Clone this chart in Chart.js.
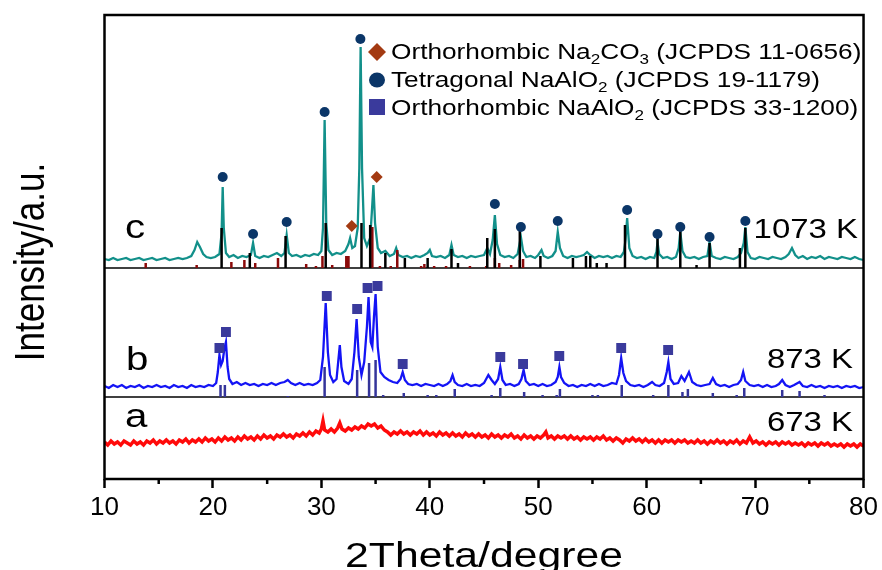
<!DOCTYPE html>
<html>
<head>
<meta charset="utf-8">
<script src="https://cdn.jsdelivr.net/npm/chart.js@4.4.1/dist/chart.umd.min.js"></script>
<style>
  body { margin: 0; background: #fff; }
</style>
</head>
<body>
<canvas id="chart" width="882" height="570"></canvas>
<script>
// scans: [2theta, intensity above the panel line]
const scanC = [[10,9],[10.4,8],[10.8,10],[11.2,8],[11.6,9],[12,10],[12.4,8],[12.8,9],[13.2,10],[13.6,8],[14,9],[14.4,10],[14.8,8],[15.2,9],[15.6,10],[16,8],[16.4,9],[16.8,10],[17.2,9],[17.6,10],[18,12],[18.3,18],[18.55,26],[18.8,21],[19.1,14],[19.4,11],[19.8,10],[20.2,11],[20.6,14],[20.8,35],[20.9,81],[21,40],[21.2,15],[21.5,11],[21.9,13],[22.3,10],[22.7,12],[23.1,11],[23.5,13],[23.7,25],[23.9,12],[24.3,10],[24.7,12],[25.1,11],[25.5,13],[25.9,15],[26.3,12],[26.6,15],[26.8,33],[27,15],[27.3,12],[27.7,13],[28.1,11],[28.5,13],[28.9,12],[29.3,14],[29.7,13],[30,17],[30.15,40],[30.3,148],[30.45,45],[30.65,18],[31,13],[31.4,15],[31.8,14],[32.2,17],[32.5,24],[32.65,30],[32.85,20],[33.1,22],[33.35,40],[33.5,100],[33.62,221],[33.75,100],[33.95,30],[34.2,22],[34.5,30],[34.65,55],[34.8,83],[34.95,45],[35.2,20],[35.5,15],[35.9,17],[36.3,12],[36.7,14],[36.9,20],[37.1,13],[37.5,11],[37.9,12],[38.3,10],[38.7,12],[39.1,11],[39.5,13],[39.8,15],[40,18],[40.2,12],[40.6,11],[41,12],[41.4,10],[41.8,13],[42,23],[42.2,13],[42.6,11],[43,12],[43.4,10],[43.8,12],[44.2,11],[44.6,12],[45,13],[45.3,20],[45.55,14],[45.8,28],[46,53],[46.2,24],[46.5,13],[46.9,11],[47.3,12],[47.7,10],[48.1,14],[48.4,31],[48.6,17],[48.9,11],[49.3,12],[49.7,10],[50,13],[50.3,18],[50.5,12],[50.9,10],[51.3,12],[51.6,17],[51.8,36],[52,20],[52.3,12],[52.7,10],[53.1,12],[53.5,11],[53.9,12],[54.2,13],[54.5,16],[54.8,13],[55.2,10],[55.6,12],[56,11],[56.4,12],[56.8,10],[57.2,12],[57.6,11],[57.9,16],[58.05,28],[58.2,50],[58.4,20],[58.7,12],[59.1,10],[59.5,11],[59.9,9],[60.3,11],[60.7,10],[60.9,16],[61,26],[61.15,14],[61.5,10],[61.9,11],[62.3,9],[62.7,11],[62.95,20],[63.1,36],[63.3,17],[63.6,11],[64,10],[64.4,11],[64.8,9],[65.2,11],[65.6,12],[65.8,26],[66,12],[66.4,10],[66.8,9],[67.2,11],[67.6,10],[68,9],[68.4,11],[68.7,15],[68.95,25],[69.1,41],[69.3,16],[69.6,10],[70,9],[70.4,11],[70.8,10],[71.2,9],[71.6,11],[72,10],[72.4,9],[72.8,11],[73.1,14],[73.4,20],[73.7,13],[74,10],[74.4,12],[74.8,9],[75.2,11],[75.6,10],[76,12],[76.4,9],[76.8,11],[77.2,10],[77.6,9],[78,11],[78.4,10],[78.8,9],[79.2,11],[79.6,9],[80,8]];

const scanB = [[10,11],[10.4,9],[10.8,12],[11.2,10],[11.6,12],[12,9],[12.4,11],[12.8,10],[13.2,12],[13.6,9],[14,11],[14.4,10],[14.8,12],[15.2,10],[15.6,11],[16,9],[16.4,12],[16.8,10],[17.2,11],[17.6,9],[18,12],[18.4,10],[18.8,11],[19.2,10],[19.6,12],[20,11],[20.3,14],[20.45,25],[20.6,42],[20.75,32],[20.9,36],[21.05,48],[21.2,55],[21.35,30],[21.5,18],[21.8,13],[22.2,15],[22.6,12],[23,14],[23.4,12],[23.8,13],[24.2,11],[24.6,13],[25,12],[25.4,14],[25.8,12],[26.2,14],[26.6,15],[26.9,17],[27.2,14],[27.6,12],[28,14],[28.4,12],[28.8,13],[29.2,12],[29.6,14],[29.9,17],[30.15,40],[30.4,94],[30.6,45],[30.8,22],[31.1,15],[31.4,18],[31.55,35],[31.7,52],[31.85,30],[32.1,16],[32.5,13],[32.8,18],[33.05,45],[33.25,78],[33.45,40],[33.7,22],[33.95,35],[34.2,70],[34.35,100],[34.55,55],[34.7,50],[34.85,80],[35,103],[35.2,50],[35.45,25],[35.8,20],[36.2,17],[36.6,15],[37,14],[37.3,18],[37.5,25],[37.7,17],[38,13],[38.4,12],[38.8,13],[39.2,11],[39.6,13],[40,12],[40.4,11],[40.8,13],[41.2,11],[41.6,13],[41.9,16],[42.1,22],[42.3,15],[42.6,12],[43,11],[43.4,13],[43.8,11],[44.2,12],[44.6,11],[45,14],[45.4,22],[45.7,17],[46,13],[46.3,18],[46.5,30],[46.7,17],[47,12],[47.4,13],[47.8,11],[48.2,13],[48.45,18],[48.65,27],[48.85,16],[49.2,12],[49.6,13],[50,11],[50.4,13],[50.8,11],[51.2,12],[51.6,15],[51.8,20],[51.95,30],[52.1,20],[52.4,14],[52.8,11],[53.2,12],[53.6,10],[54,12],[54.4,11],[54.8,13],[55.2,11],[55.6,13],[56,11],[56.4,12],[56.8,14],[57.2,13],[57.45,22],[57.65,39],[57.85,24],[58.1,16],[58.5,12],[58.9,11],[59.3,12],[59.7,10],[60.1,12],[60.5,15],[60.8,12],[61.2,11],[61.6,14],[61.85,25],[62,35],[62.2,18],[62.5,13],[62.9,14],[63.2,21],[63.5,16],[63.9,25],[64.2,15],[64.6,12],[65,11],[65.4,12],[65.8,13],[66.1,19],[66.4,13],[66.8,11],[67.2,12],[67.6,10],[68,12],[68.4,13],[68.7,17],[68.9,25],[69.1,16],[69.5,12],[69.9,11],[70.3,12],[70.7,10],[71.1,12],[71.5,10],[71.9,11],[72.2,13],[72.5,17],[72.8,12],[73.2,10],[73.6,12],[74.1,15],[74.4,11],[74.8,10],[75.2,12],[75.6,10],[76,11],[76.4,9],[76.8,11],[77.2,10],[77.6,11],[78,9],[78.4,11],[78.8,10],[79.2,11],[79.6,9],[80,10]];

const scanA = [[10,37],[10.3,34],[10.6,38],[10.9,35],[11.2,37],[11.5,34],[11.8,38],[12.1,36],[12.4,34],[12.7,38],[13,35],[13.3,37],[13.6,34],[13.9,38],[14.2,36],[14.5,39],[14.8,35],[15.1,38],[15.4,36],[15.7,39],[16,36],[16.3,38],[16.6,35],[16.9,39],[17.2,37],[17.5,40],[17.8,36],[18.1,39],[18.4,37],[18.7,40],[19,37],[19.3,41],[19.6,38],[19.9,40],[20.2,37],[20.5,41],[20.8,38],[21.1,42],[21.4,39],[21.7,41],[22,38],[22.3,42],[22.6,39],[22.9,43],[23.2,40],[23.5,42],[23.8,39],[24.1,43],[24.4,40],[24.7,44],[25,41],[25.3,43],[25.6,40],[25.9,44],[26.2,42],[26.5,45],[26.8,42],[27.1,44],[27.4,41],[27.7,45],[28,43],[28.3,46],[28.6,43],[28.9,47],[29.2,44],[29.5,48],[29.8,46],[30,50],[30.15,58],[30.3,49],[30.6,47],[30.9,50],[31.2,47],[31.5,51],[31.7,56],[31.9,50],[32.2,48],[32.5,51],[32.8,49],[33.1,52],[33.4,50],[33.7,53],[34,51],[34.3,55],[34.6,53],[34.9,55],[35.2,51],[35.5,53],[35.8,49],[36.1,47],[36.4,44],[36.7,47],[37,45],[37.3,48],[37.6,45],[37.9,47],[38.2,44],[38.5,47],[38.8,45],[39.1,48],[39.4,44],[39.7,47],[40,44],[40.3,46],[40.6,43],[40.9,47],[41.2,44],[41.5,46],[41.8,43],[42.1,46],[42.4,43],[42.7,45],[43,42],[43.3,46],[43.6,43],[43.9,45],[44.2,42],[44.5,45],[44.8,42],[45.1,44],[45.4,41],[45.7,45],[46,42],[46.3,44],[46.6,41],[46.9,44],[47.2,42],[47.5,45],[47.8,41],[48.1,43],[48.4,40],[48.7,44],[49,41],[49.3,43],[49.6,40],[49.9,43],[50.2,41],[50.5,44],[50.7,47],[50.9,41],[51.2,43],[51.5,40],[51.8,43],[52.1,41],[52.4,43],[52.7,40],[53,43],[53.3,40],[53.6,42],[53.9,39],[54.2,42],[54.5,40],[54.8,42],[55.1,39],[55.4,42],[55.7,40],[56,43],[56.3,39],[56.6,41],[56.9,38],[57.2,41],[57.5,39],[57.8,36],[58.1,40],[58.4,38],[58.7,41],[59,38],[59.3,40],[59.6,37],[59.9,40],[60.2,37],[60.5,39],[60.8,36],[61.1,39],[61.4,36],[61.7,39],[62,37],[62.3,39],[62.6,36],[62.9,39],[63.2,37],[63.5,39],[63.8,36],[64.1,38],[64.4,36],[64.7,39],[65,36],[65.3,38],[65.6,35],[65.9,38],[66.2,36],[66.5,39],[66.8,36],[67.1,38],[67.4,35],[67.7,38],[68,36],[68.3,39],[68.6,35],[68.9,38],[69.2,36],[69.5,42],[69.8,36],[70.1,38],[70.4,35],[70.7,37],[71,34],[71.3,37],[71.6,35],[71.9,37],[72.2,34],[72.5,37],[72.8,35],[73.1,37],[73.4,34],[73.7,36],[74,34],[74.3,36],[74.6,33],[74.9,36],[75.2,34],[75.5,36],[75.8,33],[76.1,36],[76.4,34],[76.7,36],[77,33],[77.3,35],[77.6,33],[77.9,35],[78.2,32],[78.5,35],[78.8,33],[79.1,35],[79.4,32],[79.7,35],[80,33]];

// reference cards: [2theta, relative height]
const refTetra = [[20.8,40],[23.4,15],[26.7,32],[30.4,45],[33.7,45],[34.5,43],[35.9,15],[37.7,10],[39.8,10],[42,19],[42.6,5],[45.3,30],[46,39],[48.3,39],[50.2,12],[53.2,10],[54.4,12],[54.8,12],[55.4,5],[56.3,5],[58,43],[61,35],[63.1,40],[64.6,3],[65.8,25],[68.6,20],[69.1,40]];
const refCarb = [[13.8,5],[18.5,3],[21.7,6],[22.9,8],[23.9,5],[26,10],[28.6,4],[29.5,2],[30.1,12],[31,3],[32.3,12],[32.5,12],[34.7,41],[35.4,2],[36.4,2],[37,18],[39.2,2],[39.5,4],[40.4,2],[41.5,2],[43.7,2],[45.2,2],[46,10],[46.4,5],[47.5,3],[48.3,8],[48.6,9]];
const refOrtho = [[20.7,12],[21.1,12],[26.9,1],[30.3,30],[33.3,27],[34.4,34],[35,37],[35.7,2],[37.6,4],[39.8,2],[40.6,2],[42.3,8],[45.7,2],[46.5,9],[48.7,5],[50.4,2],[51.7,2],[52,8],[55,2],[55.5,2],[57.7,12],[60.6,2],[62,12],[63.3,5],[63.8,8],[66.1,4],[68.3,2],[69,9],[72.5,7],[74.1,6],[76.4,2]];

// phase markers
const tetraMarks = [[20.9,91],[23.7,34],[26.8,46],[30.3,156],[33.6,229],[46,64],[48.4,41],[51.8,47],[58.2,58],[61,34],[63.1,41],[65.8,31],[69.1,47]];
const carbMarks = [[32.8,42],[35.1,91]];
const orthoMarks = [[20.6,49],[21.2,65],[30.5,101],[33.3,88],[34.26,109],[35.18,111],[37.5,33],[46.5,40],[48.6,33],[51.94,41],[57.65,49],[61.98,47]];

const offsetA = 0, offsetB = 82, offsetC = 211;
const xTicks = [10, 20, 30, 40, 50, 60, 70, 80];
const xMinor = [15, 25, 35, 45, 55, 65, 75];
const panelLabels = ['a', 'b', 'c'];
const tempLabels = ['673 K', '873 K', '1073 K'];

const fam = '"Liberation Sans", Arial, sans-serif';
const SX = 1.22;

const toPts = (arr, off) => arr.map(([x, y]) => ({x: x, y: y + off}));
const toSticks = (arr, off) => arr.flatMap(([x, h]) => [{x: x, y: off}, {x: x, y: off + h}, {x: x, y: null}]);

function stretchText(ctx, txt, x, y, size, align) {
  ctx.save();
  ctx.font = size + 'px ' + fam;
  let w = ctx.measureText(txt).width * SX;
  let x0 = align === 'right' ? x - w : align === 'center' ? x - w / 2 : x;
  ctx.translate(x0, y);
  ctx.scale(SX, 1);
  ctx.textAlign = 'left';
  ctx.textBaseline = 'alphabetic';
  ctx.fillStyle = '#000';
  ctx.fillText(txt, 0, 0);
  ctx.restore();
}

// text pieces: [string, isSub]
function legendLine(ctx, parts, x, y) {
  ctx.save();
  ctx.translate(x, y);
  ctx.scale(SX, 1);
  ctx.fillStyle = '#000';
  ctx.textBaseline = 'alphabetic';
  let cx = 0;
  parts.forEach(([s, sub]) => {
    ctx.font = (sub ? 14 : 21.5) + 'px ' + fam;
    ctx.fillText(s, cx, sub ? 5 : 0);
    cx += ctx.measureText(s).width;
  });
  ctx.restore();
}

const decor = {
  id: 'decor',
  beforeDatasetsDraw(chart) {
    const {ctx, chartArea: a, scales: {y}} = chart;
    ctx.save();
    ctx.strokeStyle = '#000';
    ctx.lineWidth = 1.5;
    [offsetB, offsetC].forEach(v => {
      const py = y.getPixelForValue(v);
      ctx.beginPath();
      ctx.moveTo(a.left, py);
      ctx.lineTo(a.right, py);
      ctx.stroke();
    });
    ctx.restore();
  },
  afterDraw(chart) {
    const {ctx, chartArea: a, scales: {x}} = chart;
    ctx.save();
    ctx.strokeStyle = '#000';
    ctx.lineWidth = 2.5;
    ctx.strokeRect(a.left, a.top, a.right - a.left, a.bottom - a.top);
    xMinor.forEach(v => {
      const px = x.getPixelForValue(v);
      ctx.beginPath();
      ctx.moveTo(px, a.bottom);
      ctx.lineTo(px, a.bottom + 5);
      ctx.stroke();
    });
    ctx.restore();

    // panel letters and temperatures
    stretchText(ctx, panelLabels[2], 125, 238, 33);
    stretchText(ctx, panelLabels[1], 126, 370, 33);
    stretchText(ctx, panelLabels[0], 125, 427, 33);
    stretchText(ctx, tempLabels[2], 858, 238, 27, 'right');
    stretchText(ctx, tempLabels[1], 853, 368, 27, 'right');
    stretchText(ctx, tempLabels[0], 853, 431, 27, 'right');

    // axis titles
    stretchText(ctx, '2Theta/degree', 484, 567, 35, 'center');
    ctx.save();
    ctx.translate(44, 262);
    ctx.scale(SX, 1);
    ctx.rotate(-Math.PI / 2);
    ctx.font = '35px ' + fam;
    ctx.textAlign = 'center';
    ctx.fillStyle = '#000';
    ctx.fillText('Intensity/a.u.', 0, 0);
    ctx.restore();

    // legend
    ctx.save();
    ctx.fillStyle = '#a33a12';
    ctx.beginPath();
    ctx.moveTo(377, 43); ctx.lineTo(386, 52); ctx.lineTo(377, 61); ctx.lineTo(368, 52);
    ctx.closePath(); ctx.fill();
    ctx.fillStyle = '#0b3668';
    ctx.beginPath();
    ctx.ellipse(377, 80, 8, 7.5, 0, 0, Math.PI * 2);
    ctx.fill();
    ctx.fillStyle = '#3a3a9c';
    ctx.fillRect(369, 99, 16, 16);
    ctx.restore();
    legendLine(ctx, [['Orthorhombic Na'], ['2', 1], ['CO'], ['3', 1], [' (JCPDS 11-0656)']], 391, 59);
    legendLine(ctx, [['Tetragonal NaAlO'], ['2', 1], [' (JCPDS 19-1179)']], 391, 87);
    legendLine(ctx, [['Orthorhombic NaAlO'], ['2', 1], [' (JCPDS 33-1200)']], 391, 115);
  }
};

const markerSet = (data, off, style, color, r) => ({
  data: toPts(data, off), showLine: false, pointStyle: style,
  pointRadius: r, pointBackgroundColor: color, pointBorderColor: color, pointBorderWidth: 0
});
const stickSet = (data, off, color) => ({
  data: toSticks(data, off), borderColor: color, borderWidth: 2.5, pointRadius: 0, spanGaps: false
});
const scanSet = (data, off, color, w) => ({
  data: toPts(data, off), borderColor: color, borderWidth: w, pointRadius: 0, tension: 0
});

new Chart(document.getElementById('chart'), {
  type: 'line',
  data: {
    datasets: [
      markerSet(tetraMarks, offsetC, 'circle', '#0b3668', 5),
      markerSet(carbMarks, offsetC, 'rectRot', '#a33a12', 6),
      markerSet(orthoMarks, offsetB, 'rect', '#3a3a9c', 7),
      stickSet(refTetra, offsetC, '#000000'),
      stickSet(refCarb, offsetC, '#8b0a0a'),
      stickSet(refOrtho, offsetB, '#34349a'),
      scanSet(scanC, offsetC, '#12908a', 2.3),
      scanSet(scanB, offsetB, '#1414f5', 2.3),
      scanSet(scanA, offsetA, '#ff0a0a', 3.5)
    ]
  },
  options: {
    responsive: false,
    devicePixelRatio: 1,
    animation: false,
    layout: { padding: { left: 104.5, right: 17, top: 15, bottom: 0 } },
    plugins: { legend: { display: false }, tooltip: { enabled: false } },
    scales: {
      x: {
        type: 'linear', min: 10, max: 80,
        afterBuildTicks: s => { s.ticks = xTicks.map(v => ({value: v})); },
        afterFit: s => { s.height = 91; },
        grid: { drawOnChartArea: false, drawTicks: true, tickLength: 9, tickWidth: 2.5, tickColor: '#000' },
        border: { display: false },
        ticks: { color: '#000', font: { size: 26, family: fam }, padding: 4, maxRotation: 0, autoSkip: false }
      },
      y: { type: 'linear', min: 0, max: 464, display: false }
    }
  },
  plugins: [decor]
});
</script>
</body>
</html>
